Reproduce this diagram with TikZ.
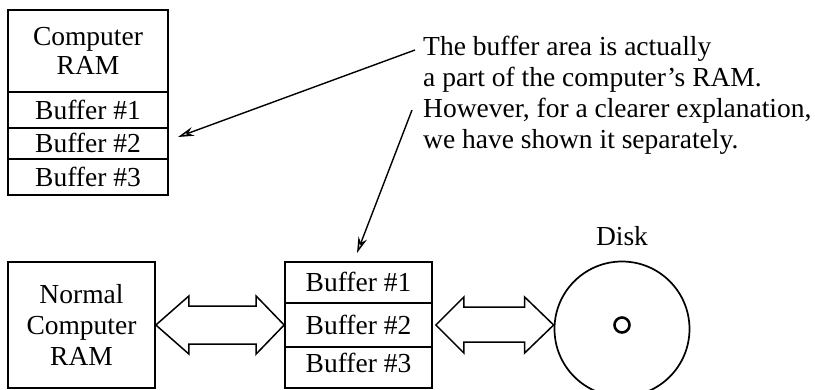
\documentclass[tikz,border=0pt]{standalone}
\usepackage{fontspec}
\setmainfont{Liberation Serif}
\usetikzlibrary{arrows.meta,calc}
\begin{document}
\begin{tikzpicture}[x=1pt,y=-1pt,
  box/.style={draw, line width=1.7pt, inner sep=0pt, font=\fontsize{27.5}{29}\selectfont},
  rowtxt/.style={box, text height=18pt, text depth=0pt},
  ptr/.style={line width=1.4pt, -{Stealth[length=16pt,width=9pt,fill=gray!45]}},
  fat/.style={draw, line width=1.5pt, line join=miter},
  lbl/.style={inner sep=0pt, font=\fontsize{27.5}{31}\selectfont}
]
\useasboundingbox (0,0) rectangle (815,389);
\clip (0,0) rectangle (815,389);

% top stack
\node[box, minimum width=160pt, minimum height=82pt, align=center] (tram) at (88,51) {Computer\\RAM};
\node[rowtxt, minimum width=160pt, minimum height=36pt] (tb1) at (88,110) {Buffer \#1};
\node[rowtxt, minimum width=160pt, minimum height=31pt] (tb2) at (88,143.5) {Buffer \#2};
\node[rowtxt, minimum width=160pt, minimum height=36pt] (tb3) at (88,177) {Buffer \#3};

% note
\node[lbl, anchor=north west, align=left] (note) at (423,36)
  {The buffer area is actually\\a part of the computer's RAM.\\However, for a clearer explanation,\\we have shown it separately.};
\coordinate (n1) at (415,50);
\coordinate (t1) at (178,137);
\coordinate (n2) at (412,110);
\coordinate (t2) at (357,253);
\draw[ptr] (n1) -- (t1);
\draw[ptr] (n2) -- (t2);

% bottom row
\node[box, minimum width=147pt, minimum height=126pt, align=center, font=\fontsize{27.5}{31}\selectfont] (nram) at (81.5,325) {Normal\\Computer\\RAM};
\node[rowtxt, minimum width=147pt, minimum height=41pt] (bb1) at (358.5,282.5) {Buffer \#1};
\node[rowtxt, minimum width=147pt, minimum height=44pt] (bb2) at (358.5,325) {Buffer \#2};
\node[rowtxt, minimum width=147pt, minimum height=41pt] (bb3) at (358.5,367.5) {\raisebox{4pt}{Buffer \#3}};

\node[draw, circle, minimum size=135pt, line width=1.7pt, inner sep=0pt] (disk) at (622,329) {};
\node[draw, circle, minimum size=15pt, line width=2.6pt, inner sep=0pt] (hole) at (622,325) {};
\node[lbl, anchor=base] (disklbl) at (622,245) {Disk};

\draw[fat] let \p1=(nram.east), \p2=(bb2.west) in
  (\x1,\y1) -- (\x1+33pt,\y1+29pt) -- (\x1+33pt,\y1+19pt) -- (\x2-28pt,\y1+19pt)
  -- (\x2-28pt,\y1+29pt) -- (\x2,\y1) -- (\x2-28pt,\y1-29pt) -- (\x2-28pt,\y1-19pt)
  -- (\x1+33pt,\y1-19pt) -- (\x1+33pt,\y1-29pt) -- cycle;
\draw[fat] let \p1=(bb2.east), \p2=(disk.west) in
  (\x1+3pt,\y1) -- (\x1+31pt,\y1+28pt) -- (\x1+31pt,\y1+18pt) -- (\x2-29pt,\y1+18pt)
  -- (\x2-29pt,\y1+28pt) -- (\x2,\y1) -- (\x2-29pt,\y1-28pt) -- (\x2-29pt,\y1-17pt)
  -- (\x1+31pt,\y1-17pt) -- (\x1+31pt,\y1-28pt) -- cycle;
\end{tikzpicture}
\end{document}
